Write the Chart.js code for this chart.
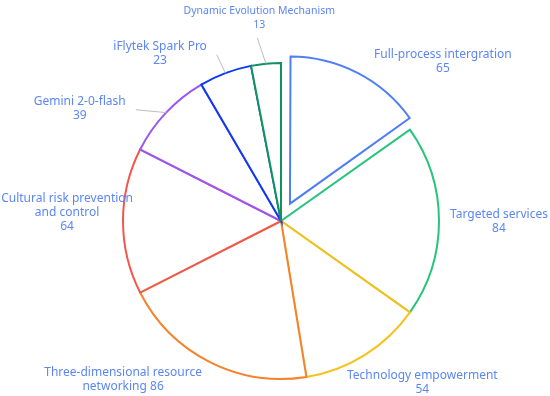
<!DOCTYPE html>
<html>
<head>
<meta charset="utf-8">
<script src="https://cdn.jsdelivr.net/npm/chart.js@4.4.0/dist/chart.umd.min.js"></script>
<style>
  html, body { margin: 0; padding: 0; background: #fff; }
</style>
</head>
<body>
<canvas id="pieChart" width="550" height="396"></canvas>
<script>
const categories = [
  "Full-process intergration",
  "Targeted services",
  "Technology empowerment",
  "Three-dimensional resource\nnetworking",
  "Cultural risk prevention\nand control",
  "Gemini 2-0-flash",
  "iFlytek Spark Pro",
  "Dynamic Evolution Mechanism",
];
const values = [65, 84, 54, 86, 64, 39, 23, 13];
const sliceColors = [
  "#4f7ff6", "#27c47c", "#f5c21b", "#f5822c",
  "#f2574e", "#9b55f3", "#0b3af2", "#10915f",
];

// labels that get a grey leader line
const withLine = [5, 6, 7];
// small hand nudges so the labels sit where the original put them
const labelNudge = [[7, 7], [1, 1], [-23, 19], [-3, 9], [20, -8], [-33, 3], [-15, -10], [70, -36]];

const labelColor = "#5b86f3";
const lineH = 14;

const outsideLabels = {
  id: "outsideLabels",
  afterDatasetUpdate(chart) {
    // chart.js grows an offset slice a bit, undo that so it keeps the same radius
    const arc = chart.getDatasetMeta(0).data[0];
    const off = arc.options.offset || 0;
    const fix = 1 - Math.sin(Math.min(Math.PI, arc.circumference));
    arc.outerRadius -= off * fix;
  },
  afterDatasetsDraw(chart) {
    const ctx = chart.ctx;
    const meta = chart.getDatasetMeta(0);
    const R = meta.controller.outerRadius;
    ctx.save();
    ctx.textAlign = "center";
    ctx.textBaseline = "middle";

    meta.data.forEach((arc, i) => {
      // the top label is set a bit smaller in the original
      ctx.font = i === 7 ? "10.5px 'Noto Sans'" : "12px 'Noto Sans'";
      const mid = (arc.startAngle + arc.endAngle) / 2;
      const shift = (arc.options.offset || 0) / 4;
      const cx = arc.x + Math.cos(mid) * shift;
      const cy = arc.y + Math.sin(mid) * shift;
      const dx = Math.cos(mid);
      const dy = Math.sin(mid);

      const lines = categories[i].split("\n");
      if (i === 3) lines[lines.length - 1] += " " + values[i];
      else lines.push(String(values[i]));
      const w = Math.max(...lines.map((t) => ctx.measureText(t).width));
      const h = lines.length * lineH;

      const bx = cx + dx * (R + 10) + Math.sign(dx) * w / 2 + labelNudge[i][0];
      const by = cy + dy * (R + 10) + labelNudge[i][1];

      if (withLine.includes(i)) {
        const px = cx + dx * R;
        const py = cy + dy * R;
        let ex, ey;
        if (px > bx - w / 2 && px < bx + w / 2) {
          ex = bx - 2;
          ey = by + h / 2 + 6;
        } else {
          ex = px > bx ? bx + w / 2 + 10 : bx - w / 2 - 10;
          ey = by + 1;
        }
        ctx.strokeStyle = "#bdbdbd";
        ctx.lineWidth = 1;
        ctx.beginPath();
        ctx.moveTo(px, py);
        ctx.lineTo(ex, ey);
        ctx.stroke();
      }

      ctx.fillStyle = labelColor;
      lines.forEach((t, k) => {
        ctx.fillText(t, bx, by - h / 2 + lineH / 2 + k * lineH);
      });
    });
    ctx.restore();
  },
};

new Chart(document.getElementById("pieChart"), {
  type: "pie",
  data: {
    labels: categories,
    datasets: [
      {
        data: values,
        backgroundColor: "#ffffff",
        borderColor: sliceColors,
        borderWidth: 2,
        borderJoinStyle: "miter",
        offset: values.map((v, i) => (i === 0 ? 78 : 0)),
        radius: 158,
        clip: false,
      },
    ],
  },
  options: {
    responsive: false,
    animation: false,
    layout: { padding: { left: 12, right: 0, top: 46, bottom: 0 } },
    plugins: {
      legend: { display: false },
      tooltip: { enabled: false },
    },
  },
  plugins: [outsideLabels],
});
</script>
</body>
</html>
